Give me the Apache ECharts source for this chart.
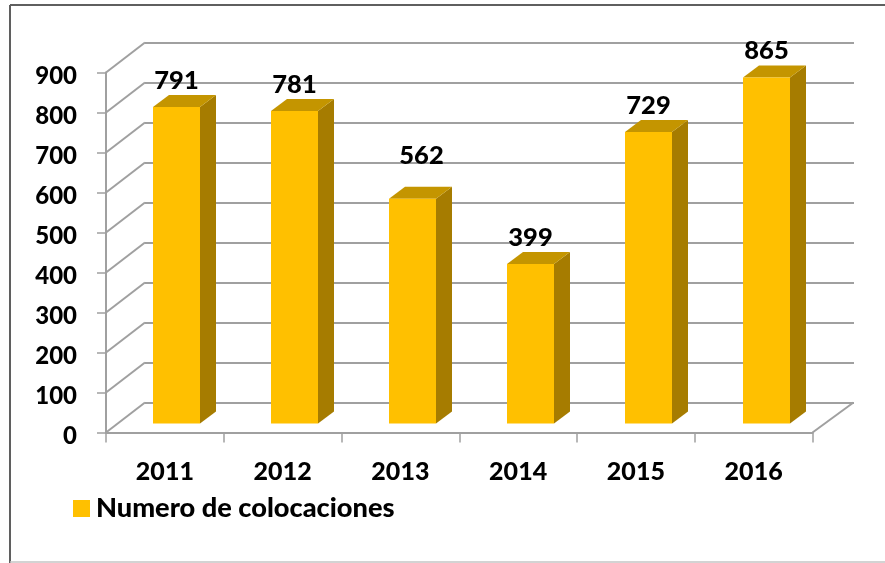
<!DOCTYPE html>
<html>
<head>
<meta charset="utf-8">
<style>html,body{margin:0;padding:0;background:#fff}#c{width:885px;height:563px}</style>
<script src="https://cdn.jsdelivr.net/npm/echarts@6/dist/echarts.min.js"></script>
</head>
<body>
<div id="c"></div>
<script>
var years = ['2011','2012','2013','2014','2015','2016'];
var values = [791,781,562,399,729,865];
var yTicks = [0,100,200,300,400,500,600,700,800,900];
var seriesName = 'Numero de colocaciones';

var FONT = 'Lato';
var WEIGHT = 900;
var GRID = '#A0A0A0';
var DEPTH_X = 16, DEPTH_Y = 12, BAR_W = 47;
var chart = echarts.init(document.getElementById('c'));

function hiddenX(i){ return {type:'category',gridIndex:i,data:years,show:false}; }
function hiddenY(i,split){
  return {type:'value',gridIndex:i,min:0,max:900,interval:100,
    axisLine:{show:false},axisTick:{show:false},axisLabel:{show:false},
    splitLine:{show:split,lineStyle:{color:GRID,width:2}}};
}

chart.setOption({
  animation:false,
  backgroundColor:'#fff',
  graphic:[
    {type:'line',silent:true,z:-1,shape:{x1:10,y1:5,x2:885,y2:5},style:{stroke:'#5f5f5f',lineWidth:2}},
    {type:'line',silent:true,z:-1,shape:{x1:10,y1:5,x2:10,y2:563},style:{stroke:'#5f5f5f',lineWidth:2}},
    {type:'line',silent:true,z:-1,shape:{x1:10,y1:562,x2:885,y2:562},style:{stroke:'#c4c4c4',lineWidth:1.5}}
  ],
  legend:{
    left:68,top:490,itemWidth:17,itemHeight:17,itemGap:7,icon:'rect',
    data:[seriesName],
    textStyle:{fontFamily:FONT,fontWeight:WEIGHT,fontSize:27.2,color:'#000',padding:[0,0,0,1]}
  },
  grid:[
    {left:106,top:72.5,width:706.5,height:360},   // front plane: axes
    {left:145,top:42.5,width:709,height:360},     // back wall: gridlines
    {left:117.5,top:63.5,width:708,height:360}    // bar plane
  ],
  xAxis:[
    {type:'category',gridIndex:0,data:years,
      axisLine:{lineStyle:{color:GRID,width:2}},
      axisTick:{show:true,length:10,lineStyle:{color:GRID,width:1.5}},
      axisLabel:{margin:27,color:'#000',fontFamily:FONT,fontWeight:WEIGHT,fontSize:25}},
    hiddenX(1),hiddenX(2)
  ],
  yAxis:[
    {type:'value',gridIndex:0,min:0,max:900,interval:100,
      axisLine:{show:true,lineStyle:{color:GRID,width:2}},
      axisTick:{show:true,length:9,lineStyle:{color:GRID,width:1.5}},
      axisLabel:{margin:29,color:'#000',formatter:'{v|{value}}',
        rich:{v:{padding:[7,0,0,0],color:'#000',fontFamily:FONT,fontWeight:WEIGHT,fontSize:24}}},
      splitLine:{show:false}},
    hiddenY(1,true),hiddenY(2,false)
  ],
  series:[
    {
      type:'custom',xAxisIndex:0,yAxisIndex:0,silent:true,z:1,
      data:yTicks.map(function(v){return [0,v];}),
      encode:{x:0,y:1},
      renderItem:function(params,api){
        var cs=params.coordSys, val=api.value(1), y=api.coord([0,val])[1];
        var lines=[{type:'line',shape:{x1:cs.x,y1:y,x2:cs.x+39,y2:y-30},style:{stroke:GRID,lineWidth:2}}];
        if(val===0){
          lines.push({type:'line',shape:{x1:cs.x+cs.width,y1:y,x2:cs.x+cs.width+41,y2:y-30},style:{stroke:GRID,lineWidth:2}});
        }
        return {type:'group',children:lines};
      }
    },
    {
      name:seriesName,type:'custom',xAxisIndex:2,yAxisIndex:2,silent:true,z:3,
      itemStyle:{color:'#FFC000'},
      data:values.map(function(v,i){return [i,v];}),
      encode:{x:0,y:1},
      renderItem:function(params,api){
        var top=api.coord([api.value(0),api.value(1)]);
        var base=api.coord([api.value(0),0]);
        var l=top[0]-BAR_W/2, r=top[0]+BAR_W/2, t=top[1], b=base[1];
        var moved=params.dataIndex===2;   // the 2013 label sits higher and to the right of its bar
        return {type:'group',children:[
          {type:'polygon',shape:{points:[[r,t],[r+DEPTH_X,t-DEPTH_Y],[r+DEPTH_X,b-DEPTH_Y],[r,b]]},style:{fill:'#A67C00'}},
          {type:'polygon',shape:{points:[[l,t],[l+DEPTH_X,t-DEPTH_Y],[r+DEPTH_X,t-DEPTH_Y],[r,t]]},style:{fill:'#C49500'}},
          {type:'rect',shape:{x:l,y:t,width:BAR_W,height:b-t},style:{fill:'#FFC000'}},
          {type:'text',z2:10,style:{x:top[0]+(moved?9:0),y:t-(moved?43:26.5),text:String(api.value(1)),textAlign:'center',textVerticalAlign:'middle',
            fill:'#000',font:WEIGHT+' 25.5px '+FONT}}
        ]};
      }
    }
  ]
});
</script>
</body>
</html>
